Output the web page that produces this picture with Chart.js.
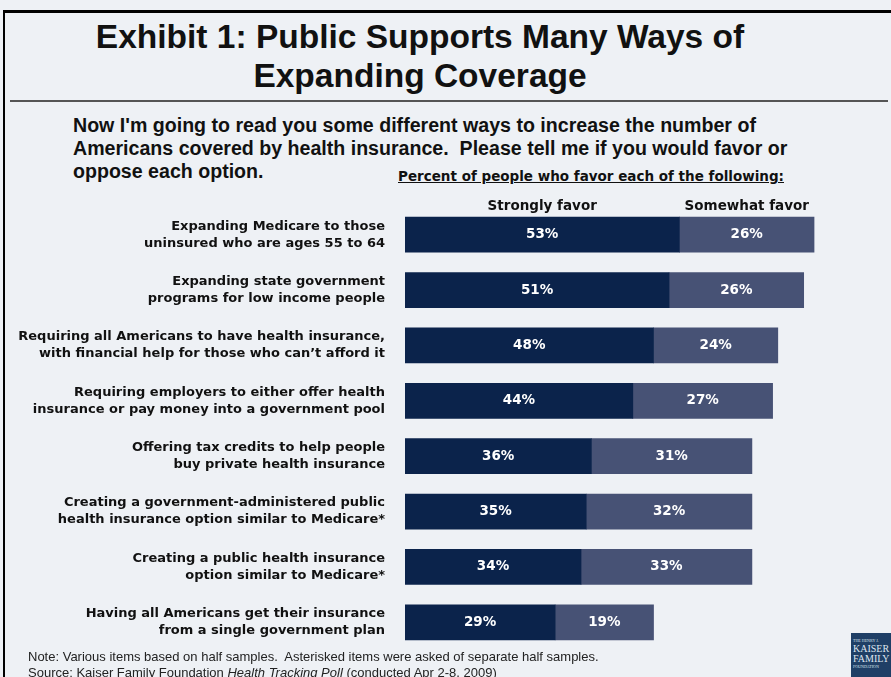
<!DOCTYPE html>
<html>
<head>
<meta charset="utf-8">
<script src="https://cdn.jsdelivr.net/npm/chart.js@4.4.1/dist/chart.umd.min.js"></script>
<style>
  html, body { margin: 0; padding: 0; }
  body { width: 891px; height: 677px; background: #eef1f5; position: relative; overflow: hidden; font-family: "Liberation Sans", Arial, sans-serif; }
  .frame { position: absolute; left: 3px; top: 10px; width: 900px; height: 700px; border-left: 2px solid #000; border-top: 3px solid #000; }
  .title { position: absolute; left: 0; width: 840px; top: 17px; text-align: center; font-weight: bold; font-size: 33.5px; line-height: 39px; color: #111; }
  .rule { position: absolute; left: 10px; top: 100px; width: 878px; height: 2px; background: #555; }
  .question { position: absolute; left: 73px; top: 114px; font-weight: bold; font-size: 19.6px; line-height: 23px; color: #111; }
  .sub { position: absolute; left: 398px; top: 168px; font-family: "DejaVu Sans", sans-serif; font-weight: bold; font-size: 13.5px; text-decoration: underline; color: #111; }
  .note { position: absolute; left: 28px; top: 649px; font-size: 13px; line-height: 16px; color: #222; }
  .logo { position: absolute; left: 851px; top: 633px; width: 45px; height: 50px; background: #1f3f66; color: #dfe6ef; font-family: "Liberation Serif", serif; font-size: 10px; line-height: 10px; padding-top: 5px; box-sizing: border-box; padding-left: 2px; }
  .logo small { font-size: 4px; display: block; line-height: 6px; }
  #wrap { position: absolute; left: 0; top: 185px; width: 891px; height: 465px; }
</style>
</head>
<body>
<div class="frame"></div>
<div class="title">Exhibit 1: Public Supports Many Ways of<br>Expanding Coverage</div>
<div class="rule"></div>
<div class="question">Now I'm going to read you some different ways to increase the number of<br>Americans covered by health insurance.&nbsp; Please tell me if you would favor or<br>oppose each option.</div>
<div class="sub">Percent of people who favor each of the following:</div>
<div id="wrap"><canvas id="chart"></canvas></div>
<div class="note">Note: Various items based on half samples.&nbsp; Asterisked items were asked of separate half samples.<br>Source: Kaiser Family Foundation <i>Health Tracking Poll</i> (conducted Apr 2-8, 2009)</div>
<div class="logo"><small>THE HENRY J.</small>KAISER<br>FAMILY<small>FOUNDATION</small></div>

<script>
// Survey items and favor shares
const categories = [
    ['Expanding Medicare to those', 'uninsured who are ages 55 to 64'],
    ['Expanding state government', 'programs for low income people'],
    ['Requiring all Americans to have health insurance,', 'with financial help for those who can\u2019t afford it'],
    ['Requiring employers to either offer health', 'insurance or pay money into a government pool'],
    ['Offering tax credits to help people', 'buy private health insurance'],
    ['Creating a government-administered public', 'health insurance option similar to Medicare*'],
    ['Creating a public health insurance', 'option similar to Medicare*'],
    ['Having all Americans get their insurance', 'from a single government plan'],
];
const stronglyFavor = [53, 51, 48, 44, 36, 35, 34, 29];
const somewhatFavor = [26, 26, 24, 27, 31, 32, 33, 19];
const seriesNames = ['Strongly favor', 'Somewhat favor'];

const boldFont = 'bold 13.5px "DejaVu Sans", sans-serif';

// Draw percent labels inside bars and the series names above the first bar
const labelPlugin = {
    id: 'labels',
    afterDatasetsDraw(chart) {
        const ctx = chart.ctx;
        ctx.save();
        ctx.textAlign = 'center';
        ctx.textBaseline = 'middle';
        ctx.font = boldFont;
        chart.data.datasets.forEach((ds, i) => {
            const meta = chart.getDatasetMeta(i);
            meta.data.forEach((bar, j) => {
                ctx.fillStyle = '#ffffff';
                ctx.fillText(ds.data[j] + '%', (bar.base + bar.x) / 2, bar.y);
            });
            const first = meta.data[0];
            ctx.fillStyle = '#111';
            ctx.fillText(seriesNames[i], (first.base + first.x) / 2, first.y - 28);
        });
        ctx.restore();
    }
};

new Chart(document.getElementById('chart'), {
    type: 'bar',
    data: {
        labels: categories,
        datasets: [{
            label: seriesNames[0],
            data: stronglyFavor,
            backgroundColor: '#0b234b',
            barThickness: 35,
        }, {
            label: seriesNames[1],
            data: somewhatFavor,
            backgroundColor: '#475275',
            barThickness: 35,
        }],
    },
    options: {
        indexAxis: 'y',
        responsive: true,
        maintainAspectRatio: false,
        animation: false,
        layout: { padding: { top: 22, right: 20, bottom: 0, left: 0 } },
        plugins: { legend: { display: false }, tooltip: { enabled: false } },
        scales: {
            x: { stacked: true, min: 0, max: 90, display: false },
            y: {
                stacked: true,
                grid: { display: false, drawTicks: false },
                border: { display: false },
                afterFit: (scale) => {
                    scale.width = 405;
                    scale.paddingTop = 0;
                    scale.paddingBottom = 0;
                },
                ticks: {
                    color: '#111',
                    padding: 20,
                    font: { family: '"DejaVu Sans", sans-serif', size: 13, weight: 'bold', lineHeight: 1.3 },
                },
            },
        },
    },
    plugins: [labelPlugin],
});
</script>
</body>
</html>
